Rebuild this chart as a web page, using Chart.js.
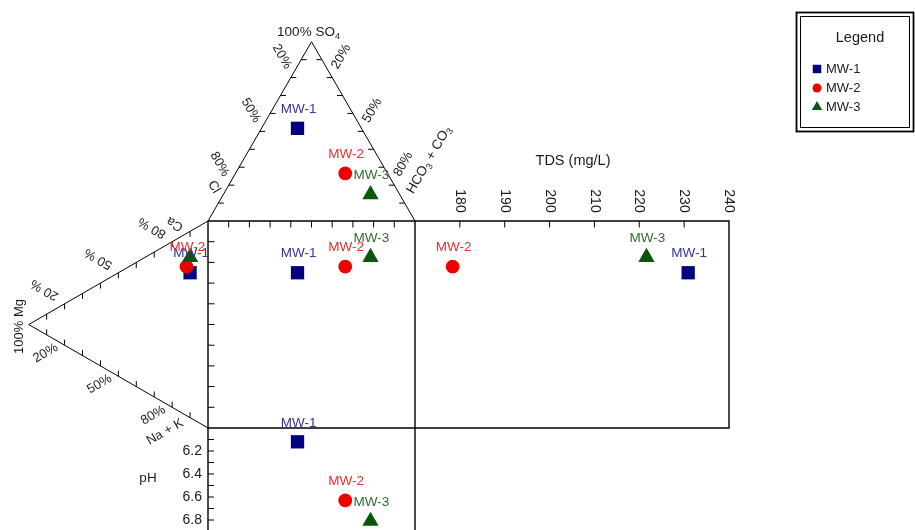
<!DOCTYPE html>
<html>
<head>
<meta charset="utf-8">
<title>Durov diagram</title>
<script src="https://cdn.jsdelivr.net/npm/chart.js@4.4.1/dist/chart.umd.min.js"></script>
<style>
  html, body { margin: 0; padding: 0; background: #ffffff; }
  #box { width: 915px; height: 530px; }
</style>
</head>
<body>
<div id="box"><canvas id="durov" width="915" height="530"></canvas></div>
<script>
// ---- well chemistry (meq %), TDS (mg/L) and field pH ----
const wells   = ['MW-1', 'MW-2', 'MW-3'];
const clPct   = [30.9, 20.4, 14.1];
const so4Pct  = [51.7, 26.6, 14.8];
const hco3Pct = [17.4, 53.0, 71.1];
const caPct   = [70.0, 72.0, 77.5];
const mgPct   = [10.0, 12.0, 10.0];
const naKPct  = [20.0, 16.0, 12.5];
const tdsMgL  = [230.9, 178.4, 221.6];
const phVal   = [6.12, 6.63, 6.81];

// ---- ticks ----
const pctTicks      = [10, 20, 30, 40, 50, 60, 70, 80, 90];
const pctLabelTicks = [20, 50, 80];
const tdsTicks      = [180, 190, 200, 210, 220, 230];
const tdsLabels     = [180, 190, 200, 210, 220, 230, 240];
const phTicks       = [6.1, 6.2, 6.3, 6.4, 6.5, 6.6, 6.7, 6.8, 6.9, 7.0, 7.1, 7.2, 7.3, 7.4, 7.5, 7.6, 7.7];
const phLabels      = [6.2, 6.4, 6.6, 6.8, 7.0, 7.2, 7.4, 7.6];
const tdsRange      = [170, 240];
const phRange       = [6.0, 7.8];

// ---- layout ----
const CW = 915, CH = 530;
const SQ_LEFT = 208, SQ_TOP = 221, SQ_SIDE = 207, TDS_RIGHT = 729;
const U = SQ_SIDE / 100;                 // px per square unit
const TRI_H = 50 * Math.sqrt(3);         // triangle height in square units
const TDS_PX = (TDS_RIGHT - SQ_LEFT - SQ_SIDE) / (tdsRange[1] - tdsRange[0]);
const PH_PX = SQ_SIDE / (phRange[1] - phRange[0]);
const FONT = '"Liberation Sans", Arial, Helvetica, sans-serif';

const wellStyle = [
  { shape: 'rect',     fill: '#000080', text: '#34349a', r: 9.4 },
  { shape: 'circle',   fill: '#ee0000', text: '#e3302f', r: 6.9 },
  { shape: 'triangle', fill: '#0a560a', text: '#2f6d2f', r: 9.4 }
];

// ---- Durov projections (square units: the central square spans 0..100) ----
const anionXY  = i => ({ x: hco3Pct[i] + so4Pct[i] / 2, y: 100 + so4Pct[i] * TRI_H / 100 });
const cationY  = i => 100 - naKPct[i] - mgPct[i] / 2;
const cationXY = i => ({ x: -mgPct[i] * TRI_H / 100, y: cationY(i) });
const squareXY = i => ({ x: anionXY(i).x, y: cationY(i) });

function frameLine(data, width, xAxisID, yAxisID) {
  return {
    type: 'scatter', data, xAxisID: xAxisID || 'x', yAxisID: yAxisID || 'y',
    showLine: true, fill: false, tension: 0,
    borderColor: '#000000', borderWidth: width,
    pointRadius: 0, pointHoverRadius: 0, pointHitRadius: 0, order: 10
  };
}

const datasets = [
  frameLine([{ x: 0, y: 100 }, { x: 50, y: 100 + TRI_H }, { x: 100, y: 100 }], 1),
  frameLine([{ x: 0, y: 100 }, { x: -TRI_H, y: 50 }, { x: 0, y: 0 }], 1),
  frameLine([{ x: 0, y: 100 }, { x: 100, y: 100 }, { x: 100, y: 0 }, { x: 0, y: 0 }, { x: 0, y: 100 }], 1.4),
  frameLine([{ x: tdsRange[0], y: 100 }, { x: tdsRange[1], y: 100 }, { x: tdsRange[1], y: 0 }, { x: tdsRange[0], y: 0 }], 1.4, 'tds', 'y'),
  frameLine([{ x: 0, y: phRange[0] }, { x: 0, y: phRange[1] }], 1.4, 'x', 'ph'),
  frameLine([{ x: 100, y: phRange[0] }, { x: 100, y: phRange[1] }], 1.4, 'x', 'ph')
];

wells.forEach((w, i) => {
  const st = wellStyle[i];
  const base = {
    type: 'scatter', pointStyle: st.shape, pointRadius: st.r, pointHoverRadius: st.r,
    pointBackgroundColor: st.fill, pointBorderColor: st.fill, pointBorderWidth: 0,
    order: 3 - i, labelColor: st.text
  };
  datasets.push(Object.assign({}, base, {
    label: w, data: [anionXY(i), cationXY(i), squareXY(i)],
    pointLabels: [w, i === 2 ? '' : w, w]
  }));
  datasets.push(Object.assign({}, base, {
    label: w + ' TDS', xAxisID: 'tds', data: [{ x: tdsMgL[i], y: cationY(i) }], pointLabels: [w]
  }));
  datasets.push(Object.assign({}, base, {
    label: w + ' pH', yAxisID: 'ph', data: [{ x: squareXY(i).x, y: phVal[i] }], pointLabels: [w]
  }));
});

// ---- text helpers ----
function drawRich(ctx, parts, x, y, deg, size, color, align) {
  ctx.save();
  ctx.translate(x, y);
  ctx.rotate(deg * Math.PI / 180);
  ctx.fillStyle = color || '#1a1a1a';
  ctx.textBaseline = 'middle';
  ctx.textAlign = 'left';
  const widths = parts.map(p => {
    ctx.font = (p[1] ? Math.round(size * 0.7) : size) + 'px ' + FONT;
    return ctx.measureText(p[0]).width;
  });
  const total = widths.reduce((a, b) => a + b, 0);
  let cx = align === 'right' ? -total : (align === 'left' ? 0 : -total / 2);
  parts.forEach((p, k) => {
    ctx.font = (p[1] ? Math.round(size * 0.7) : size) + 'px ' + FONT;
    ctx.fillText(p[0], cx, p[1] ? size * 0.3 : 0);
    cx += widths[k];
  });
  ctx.restore();
}
const drawText = (ctx, s, x, y, deg, size, color, align) => drawRich(ctx, [[s, 0]], x, y, deg, size, color, align);

function drawMarker(ctx, shape, r, x, y) {
  if (Chart.helpers && Chart.helpers.drawPoint) {
    Chart.helpers.drawPoint(ctx, { pointStyle: shape, radius: r, rotation: 0, borderWidth: 0 }, x, y);
    return;
  }
  ctx.beginPath();
  ctx.arc(x, y, r, 0, Math.PI * 2);
  ctx.fill();
}

const decor = {
  id: 'durovDecor',
  afterDatasetsDraw(chart) {
    const ctx = chart.ctx;
    const sx = chart.scales.x, sy = chart.scales.y, st = chart.scales.tds, sp = chart.scales.ph;
    const P = (u, v) => [sx.getPixelForValue(u), sy.getPixelForValue(v)];
    const T = 5.5;

    ctx.save();
    ctx.strokeStyle = '#000000';
    ctx.lineWidth = 1;
    const tick = (p, dx, dy) => {
      ctx.beginPath();
      ctx.moveTo(p[0], p[1]);
      ctx.lineTo(p[0] + dx, p[1] + dy);
      ctx.stroke();
    };

    // ternary edge positions
    const anionL = t => P(50 - 50 * t, 100 + TRI_H * (1 - t));
    const anionR = t => P(50 + 50 * t, 100 + TRI_H * (1 - t));
    const catU   = t => P(-TRI_H * (1 - t), 50 + 50 * t);
    const catD   = t => P(-TRI_H * (1 - t), 50 - 50 * t);

    pctTicks.forEach(v => {
      const t = v / 100;
      tick(anionL(t), T, 0);
      tick(anionR(t), -T, 0);
      tick(catU(t), 0, T);
      tick(catD(t), 0, -T);
      tick(P(v, 100), 0, 6.5);
      tick(P(0, v), 6.5, 0);
    });
    tdsTicks.forEach(v => tick([st.getPixelForValue(v), sy.getPixelForValue(100)], 0, 6.5));
    phTicks.forEach(v => tick([sx.getPixelForValue(0), sp.getPixelForValue(v)], 6, 0));

    // percentage labels
    const fs = 13;
    pctLabelTicks.forEach(v => {
      const t = v / 100;
      let p = anionL(t); drawText(ctx, v + '%', p[0] - 9, p[1] - 21, 60, fs);
      p = anionR(t);     drawText(ctx, v + '%', p[0] + 9, p[1] - 21, -60, fs);
      p = catU(t);       drawText(ctx, v + ' %', p[0] - 20, p[1] - 14, -150, fs);
      p = catD(t);       drawText(ctx, v + '%', p[0] - 19, p[1] + 8, -30, fs);
    });

    // apex / vertex names
    let p = P(50, 100 + TRI_H);
    drawRich(ctx, [['100% SO', 0], ['4', 1]], p[0] - 3, p[1] - 9, 0, 13.5);
    p = P(0, 100);
    drawText(ctx, 'Cl', p[0] + 6, p[1] - 34, 60, fs);
    drawText(ctx, 'Ca', p[0] - 33, p[1] + 3, -150, fs);
    p = P(100, 100);
    drawRich(ctx, [['HCO', 0], ['3', 1], [' + CO', 0], ['3', 1]], p[0] + 14, p[1] - 61, -60, 13.5);
    p = P(-TRI_H, 50);
    drawText(ctx, '100% Mg', p[0] - 9, p[1] + 2, -90, 13);
    p = P(0, 0);
    drawText(ctx, 'Na + K', p[0] - 43, p[1] + 4, -30, fs);

    // TDS axis
    const top = sy.getPixelForValue(100);
    tdsLabels.forEach(v => drawText(ctx, String(v), st.getPixelForValue(v), top - 20, 90, 14));
    drawText(ctx, 'TDS (mg/L)', st.getPixelForValue(205) + 1, top - 60, 0, 14.5);

    // pH axis
    const left = sx.getPixelForValue(0);
    phLabels.forEach(v => drawText(ctx, v.toFixed(1), left - 6, sp.getPixelForValue(v), 0, 14, '#1a1a1a', 'right'));
    drawText(ctx, 'pH', left - 60, sp.getPixelForValue(6.4) + 4, 0, 13.5);

    // well labels above each marker
    chart.data.datasets.forEach((ds, di) => {
      if (!ds.pointLabels) return;
      const meta = chart.getDatasetMeta(di);
      meta.data.forEach((el, j) => {
        const s = ds.pointLabels[j];
        if (s) drawText(ctx, s, el.x + 1, el.y - 19, 0, 13.5, ds.labelColor);
      });
    });

    // legend box
    ctx.strokeStyle = '#000000';
    ctx.lineWidth = 1.8;
    ctx.strokeRect(796.5, 12.5, 117, 119);
    ctx.lineWidth = 1;
    ctx.strokeRect(800.5, 16.5, 109, 111);
    drawText(ctx, 'Legend', 860, 38, 0, 14.5);
    wells.forEach((w, i) => {
      const y = 69 + i * 19;
      ctx.fillStyle = wellStyle[i].fill;
      drawMarker(ctx, wellStyle[i].shape, wellStyle[i].shape === 'circle' ? 4.5 : 6, 817, y);
      drawText(ctx, w, 826, y, 0, 13, '#1a1a1a', 'left');
    });
    ctx.restore();
  }
};

new Chart(document.getElementById('durov'), {
  type: 'scatter',
  data: { datasets },
  options: {
    responsive: false,
    animation: false,
    devicePixelRatio: 1,
    layout: { padding: 0, autoPadding: false },
    plugins: { legend: { display: false }, tooltip: { enabled: false } },
    events: [],
    scales: {
      x: {
        type: 'linear', display: false, bounds: 'data',
        min: -SQ_LEFT / U, max: (CW - SQ_LEFT) / U
      },
      y: {
        type: 'linear', display: false, bounds: 'data',
        min: -(CH - SQ_TOP - SQ_SIDE) / U, max: 100 + SQ_TOP / U
      },
      tds: {
        type: 'linear', axis: 'x', display: false, bounds: 'data',
        min: tdsRange[0] - (SQ_LEFT + SQ_SIDE) / TDS_PX,
        max: tdsRange[0] + (CW - SQ_LEFT - SQ_SIDE) / TDS_PX
      },
      ph: {
        type: 'linear', axis: 'y', display: false, bounds: 'data', reverse: true,
        min: phRange[0] - (SQ_TOP + SQ_SIDE) / PH_PX,
        max: phRange[0] + (CH - SQ_TOP - SQ_SIDE) / PH_PX
      }
    }
  },
  plugins: [decor]
});
</script>
</body>
</html>
